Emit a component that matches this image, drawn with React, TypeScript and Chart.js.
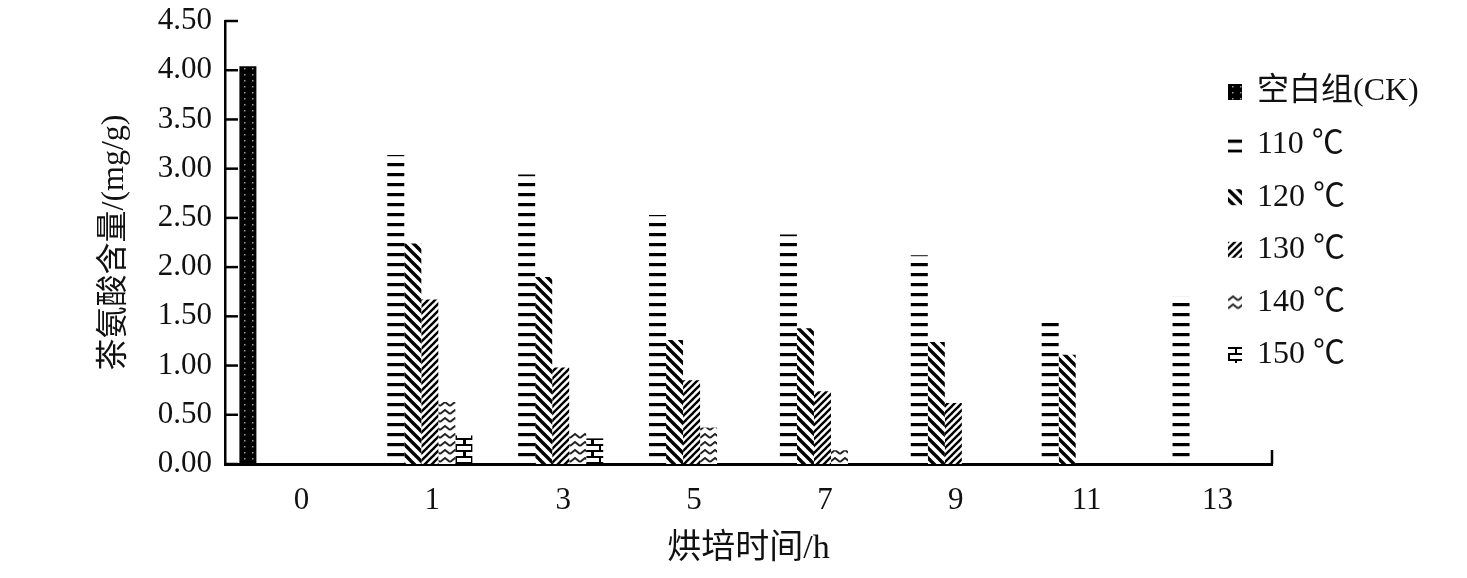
import React, { useEffect, useRef } from 'react';
import { Chart, registerables } from 'chart.js';

Chart.register(...registerables);

const categories = ['0', '1', '3', '5', '7', '9', '11', '13'];
const seriesLabels = ['空白组(CK)', '110 ℃', '120 ℃', '130 ℃', '140 ℃', '150 ℃'];
const ck = [4.04, null, null, null, null, null, null, null];
const t110 = [null, 3.14, 2.94, 2.53, 2.33, 2.12, 1.49, 1.70];
const t120 = [null, 2.24, 1.90, 1.26, 1.38, 1.24, 1.11, null];
const t130 = [null, 1.67, 0.98, 0.85, 0.74, 0.62, null, null];
const t140 = [null, 0.63, 0.33, 0.37, 0.14, null, null, null];
const t150 = [null, 0.29, 0.26, null, null, null, null, null];
const yMin = 0;
const yMax = 4.5;
const yStep = 0.5;
const xTitle = '烘培时间/h';
const yTitle = '茶氨酸含量/(mg/g)';

const FONT = "'Liberation Serif', 'Noto Sans CJK SC', serif";

function tile(w: number, h: number, paint: (c: CanvasRenderingContext2D) => void): CanvasPattern {
  const cv = document.createElement('canvas');
  cv.width = w;
  cv.height = h;
  const c = cv.getContext('2d')!;
  c.fillStyle = '#ffffff';
  c.fillRect(0, 0, w, h);
  paint(c);
  const ctx = document.createElement('canvas').getContext('2d')!;
  return ctx.createPattern(cv, 'repeat')!;
}

function makePatterns(): CanvasPattern[] {
  const ckP = tile(8, 6, (c) => {
    c.fillStyle = '#000';
    c.fillRect(0, 0, 8, 6);
    c.fillStyle = '#9a9a9a';
    c.fillRect(4, 2, 1.5, 1.5);
  });
  const p110 = tile(8, 10, (c) => {
    c.fillStyle = '#000';
    c.fillRect(0, 3, 8, 3.2);
  });
  const p120 = tile(10, 10, (c) => {
    c.strokeStyle = '#000';
    c.lineWidth = 3.4;
    for (let k = -1; k <= 1; k++) {
      c.beginPath();
      c.moveTo(k * 10 - 2, -2);
      c.lineTo(k * 10 + 12, 12);
      c.stroke();
    }
  });
  const p130 = tile(7, 7, (c) => {
    c.strokeStyle = '#000';
    c.lineWidth = 2.4;
    for (let k = -1; k <= 1; k++) {
      c.beginPath();
      c.moveTo(k * 7 - 2, 9);
      c.lineTo(k * 7 + 9, -2);
      c.stroke();
    }
  });
  const p140 = tile(10, 8, (c) => {
    c.strokeStyle = '#222';
    c.lineWidth = 2;
    c.beginPath();
    c.moveTo(0, 6);
    c.lineTo(5, 2);
    c.lineTo(10, 6);
    c.stroke();
  });
  const p150 = tile(16, 12, (c) => {
    c.fillStyle = '#000';
    c.fillRect(0, 0, 16, 2);
    c.fillRect(0, 6, 16, 2);
    c.fillRect(7, 0, 2, 7);
    c.fillRect(0, 6, 2, 6);
    c.fillRect(15, 6, 1, 6);
  });
  return [ckP, p110, p120, p130, p140, p150];
}

const decorPlugin = {
  id: 'decor',
  afterDraw(chart: any) {
    const { ctx, chartArea, scales } = chart;
    const y = scales.y;
    ctx.save();
    ctx.strokeStyle = '#000';
    ctx.lineWidth = 2.5;
    y.ticks.forEach((t: any) => {
      const py = y.getPixelForValue(t.value);
      ctx.beginPath();
      ctx.moveTo(chartArea.left, py);
      ctx.lineTo(chartArea.left + 13, py);
      ctx.stroke();
    });
    ctx.beginPath();
    ctx.moveTo(chartArea.right, chartArea.bottom);
    ctx.lineTo(chartArea.right, chartArea.bottom - 14);
    ctx.stroke();

    // legend
    const lx = chartArea.right - 44;
    let ly = chartArea.top + 71;
    ctx.font = `32px ${FONT}`;
    ctx.textBaseline = 'middle';
    ctx.textAlign = 'left';
    chart.data.datasets.forEach((ds: any) => {
      ctx.save();
      ctx.translate(lx, ly - 8);
      ctx.fillStyle = ds.backgroundColor;
      ctx.fillRect(0, 0, 14, 16);
      ctx.restore();
      ctx.fillStyle = '#111';
      ctx.fillText(ds.label, lx + 29, ly);
      ly += 52.6;
    });
    ctx.restore();
  },
};

export default function App() {
  const ref = useRef<HTMLCanvasElement>(null);
  useEffect(() => {
    document.body.style.margin = '0';
    document.body.style.overflow = 'hidden';
    const pats = makePatterns();
    const series = [ck, t110, t120, t130, t140, t150];
    const chart = new Chart(ref.current!, {
      type: 'bar',
      data: {
        labels: categories,
        datasets: series.map((d, i) => ({
          label: seriesLabels[i],
          data: d,
          backgroundColor: pats[i] as any,
          borderWidth: 0,
          categoryPercentage: 0.78,
          barPercentage: 1.0,
        })),
      },
      options: {
        animation: false,
        responsive: true,
        maintainAspectRatio: false,
        layout: { padding: { top: 21, right: 195, bottom: 0, left: 0 } },
        plugins: {
          legend: { display: false },
          tooltip: { enabled: false },
        },
        scales: {
          x: {
            grid: { display: false, drawTicks: false },
            border: { display: true, color: '#000', width: 3 },
            ticks: {
              color: '#111',
              font: { family: FONT, size: 31 },
              padding: 18,
              labelOffset: 11,
            },
            title: {
              display: true,
              text: xTitle,
              color: '#111',
              font: { family: FONT, size: 34, lineHeight: 1 },
              padding: { top: 0, bottom: 12 },
            },
            afterFit: (s: any) => {
              s.height = 114;
              s.paddingLeft = 0;
              s.paddingRight = 0;
            },
          },
          y: {
            min: yMin,
            max: yMax,
            grid: { display: false, drawTicks: false },
            border: { display: true, color: '#000', width: 2.5 },
            ticks: {
              stepSize: yStep,
              color: '#111',
              font: { family: FONT, size: 31 },
              padding: 13,
              callback: (v: any) => Number(v).toFixed(2),
            },
            title: {
              display: true,
              text: yTitle,
              color: '#111',
              font: { family: FONT, size: 32, lineHeight: 1 },
              padding: { top: 99, bottom: 0 },
            },
            afterFit: (s: any) => {
              s.width = 225;
              s.paddingTop = 0;
              s.paddingBottom = 0;
            },
          },
        },
      },
      plugins: [decorPlugin],
    });
    return () => chart.destroy();
  }, []);
  return (
    <div style={{ width: '1467px', height: '578px', position: 'relative', background: '#fff' }}>
      <canvas ref={ref} />
    </div>
  );
}
